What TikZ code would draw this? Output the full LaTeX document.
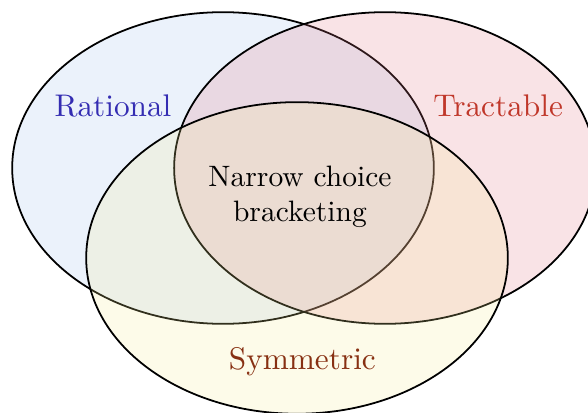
\documentclass[tikz,border=0pt]{standalone}
\usetikzlibrary{shapes.geometric}

\definecolor{ratfill}{RGB}{155,190,235}
\definecolor{trafill}{RGB}{225,115,130}
\definecolor{symfill}{RGB}{245,235,145}
\definecolor{ratcol}{RGB}{52,45,178}
\definecolor{tracol}{RGB}{192,55,42}
\definecolor{symcol}{RGB}{135,48,18}

\begin{document}
\begin{tikzpicture}[
    set/.style={ellipse, draw=black, semithick, fill=#1, fill opacity=0.2,
        minimum width=5.02cm, minimum height=3.71cm, inner sep=0pt},
    setlabel/.style={text=#1, align=center, font=\fontsize{10.6}{12.7}\selectfont},
]
\useasboundingbox (0,0) rectangle (7,-4.905);

% the three sets
\node[set=ratfill] (rational)  at (2.655,-2.0)   {};
\node[set=trafill] (tractable) at (4.583,-2.0)   {};
\node[set=symfill] (symmetric) at (3.536,-3.071) {};

% labels
\node[setlabel=ratcol] (ratlabel) at (1.345,-1.262) {Rational};
\node[setlabel=tracol] (tralabel) at (5.93,-1.262)  {Tractable};
\node[setlabel=symcol] (symlabel) at (3.6,-4.31)    {Symmetric};
\node[align=center]    (narrow)   at (3.571,-2.345) {Narrow choice\\bracketing};

\end{tikzpicture}
\end{document}
